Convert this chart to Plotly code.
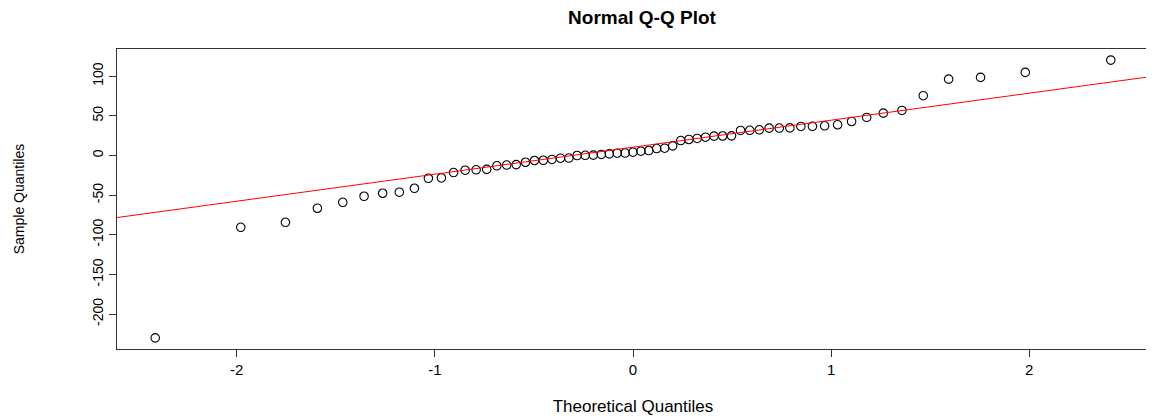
import numpy as np
import plotly.graph_objects as go

# Theoretical quantiles (x) and sorted sample quantiles (y), n = 63
theoretical = [-2.4117, -1.9800, -1.7544, -1.5932, -1.4651, -1.3575, -1.2636, -1.1796,
               -1.1034, -1.0328, -0.9673, -0.9057, -0.8473, -0.7918, -0.7385, -0.6872,
               -0.6376, -0.5896, -0.5428, -0.4972, -0.4527, -0.4090, -0.3661, -0.3239,
               -0.2822, -0.2411, -0.2003, -0.1598, -0.1196, -0.0797, -0.0398, 0.0,
               0.0398, 0.0797, 0.1196, 0.1598, 0.2003, 0.2411, 0.2822, 0.3239,
               0.3661, 0.4090, 0.4527, 0.4972, 0.5428, 0.5896, 0.6376, 0.6872,
               0.7385, 0.7918, 0.8473, 0.9057, 0.9673, 1.0328, 1.1034, 1.1796,
               1.2636, 1.3575, 1.4651, 1.5932, 1.7544, 1.9800, 2.4117]
sample = [-230, -90.5, -84.2, -66.5, -59, -51.4, -47.6, -46.3, -41.3, -28.7,
          -28.3, -21.5, -18.5, -18, -17.5, -13, -12, -11.5, -8.5, -6.3,
          -6, -5, -3.4, -3.2, 0, 0.3, 0.5, 1.3, 2.1, 2.9,
          3.1, 4.2, 5.4, 6.3, 8.8, 9.2, 12.2, 18.9, 20.2, 21.5,
          23.1, 24.4, 24.6, 24.8, 31.6, 31.8, 32.4, 34.5, 34.6, 34.8,
          36.6, 36.8, 37.5, 38.8, 42.9, 48, 53.4, 56.8, 75.4, 96.3,
          98.5, 104.8, 120.3]
x_ticks = [-2, -1, 0, 1, 2]
y_ticks = [-200, -150, -100, -50, 0, 50, 100]

# R-style axis ranges (data range extended by 4% each side)
def r_range(v):
    lo, hi = min(v), max(v)
    pad = 0.04 * (hi - lo)
    return [lo - pad, hi + pad]

xr = r_range(theoretical)
yr = r_range(sample)

# qqline: through first and third quartiles
q1, q3 = np.percentile(sample, [25, 75])
z1, z3 = -0.6744898, 0.6744898
slope = (q3 - q1) / (z3 - z1)
intercept = q1 - slope * z1
line_x = np.array(xr)
line_y = intercept + slope * line_x

font = "Liberation Sans, Arial, sans-serif"

# page body has an 8px margin; size the figure so it fits the 1154x418 window
W, H = 1146, 410

fig = go.Figure()
fig.add_trace(go.Scatter(
    x=theoretical, y=sample, mode="markers",
    marker=dict(symbol="circle-open", size=8.5, color="black", line=dict(width=1.1, color="black")),
    showlegend=False, hoverinfo="x+y"))
fig.add_trace(go.Scatter(
    x=line_x, y=line_y, mode="lines",
    line=dict(color="red", width=1), showlegend=False, hoverinfo="skip"))

fig.update_layout(
    width=W, height=H,
    margin=dict(l=109, r=5, t=41, b=69, autoexpand=False),
    paper_bgcolor="white", plot_bgcolor="white",
    title=dict(text="<b>Normal Q-Q Plot</b>", x=634 / W, xanchor="center", xref="container",
               y=1 - 9 / H, yanchor="middle", yref="container", automargin=False,
               font=dict(family=font, size=19, color="black")),
    font=dict(family=font, color="black"),
)
fig.update_xaxes(
    range=xr, tickmode="array", tickvals=x_ticks, ticktext=[str(t) for t in x_ticks],
    showgrid=False, zeroline=False, automargin=False,
    showline=True, mirror=True, linecolor="#333", linewidth=1,
    ticks="outside", ticklen=7, tickcolor="#333", tickwidth=1,
    tickfont=dict(family=font, size=15, color="black"),
    title=dict(text="Theoretical Quantiles", font=dict(family=font, size=17, color="black"), standoff=23),
)
fig.update_yaxes(
    range=yr, tickmode="array", tickvals=y_ticks, ticktext=[str(t) for t in y_ticks],
    showgrid=False, zeroline=False, automargin=False,
    showline=True, mirror=True, linecolor="#333", linewidth=1,
    ticks="outside", ticklen=7, tickcolor="#333", tickwidth=1,
    tickangle=-90,
    tickfont=dict(family=font, size=14, color="black"),
    title=dict(text="Sample Quantiles", font=dict(family=font, size=14, color="black"), standoff=62),
)

fig.write_html("out.html")
